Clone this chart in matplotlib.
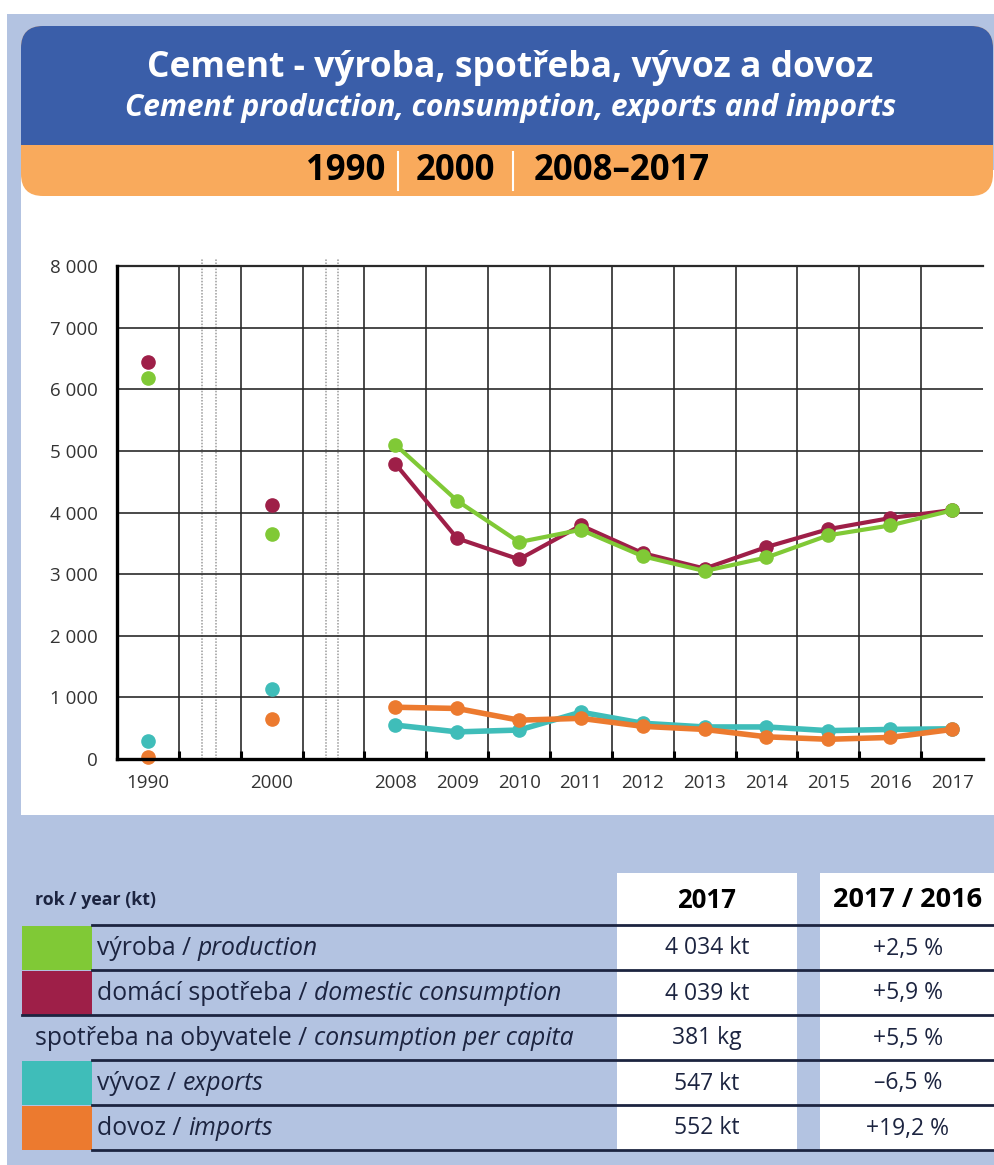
import matplotlib
matplotlib.use("Agg")
import matplotlib.pyplot as plt
from matplotlib.patches import Rectangle, FancyBboxPatch
from matplotlib.ticker import FuncFormatter
import numpy as np

# ---------------- data ----------------
years = ["1990", "2000", "2008", "2009", "2010", "2011", "2012", "2013",
         "2014", "2015", "2016", "2017"]
production = [6180, 3650, 5100, 4190, 3520, 3720, 3290, 3050, 3270, 3630, 3790, 4034]
consumption = [6450, 4120, 4790, 3580, 3240, 3790, 3340, 3090, 3440, 3730, 3910, 4039]
exports = [290, 1130, 550, 440, 470, 760, 580, 520, 520, 460, 480, 490]
imports = [40, 650, 840, 820, 630, 660, 530, 480, 360, 320, 350, 480]

y_ticks = [0, 1000, 2000, 3000, 4000, 5000, 6000, 7000, 8000]

title_cz = "Cement - výroba, spotřeba, vývoz a dovoz"
title_en = "Cement production, consumption, exports and imports"
periods = ["1990", "2000", "2008–2017"]

table_header = "rok / year (kt)"
col_headers = ["2017", "2017 / 2016"]
row_cz = ["výroba", "domácí spotřeba", "spotřeba na obyvatele", "vývoz", "dovoz"]
row_en = ["production", "domestic consumption", "consumption per capita", "exports", "imports"]
values_2017 = ["4 034 kt", "4 039 kt", "381 kg", "547 kt", "552 kt"]
change_pct = ["+2,5 %", "+5,9 %", "+5,5 %", "–6,5 %", "+19,2 %"]

# ---------------- styles ----------------
GREEN = "#80c936"
MAROON = "#9e1f48"
TEAL = "#3fbdb9"
ORANGE = "#ec7a2f"
BLUE = "#3a5ea9"
BAND = "#f9aa5c"
LIGHT = "#b3c3e1"
NAVY = "#1c2440"
TXT = "#333333"
FONT = "Open Sans"

W, H = 995, 1165
fig = plt.figure(figsize=(W / 100, H / 100), dpi=100)
fig.patch.set_facecolor("white")

bg = fig.add_axes([0, 0, 1, 1], zorder=0)
bg.set_xlim(0, W)
bg.set_ylim(H, 0)
bg.axis("off")

bg.add_patch(Rectangle((7, 14), W - 7, H - 14, color=LIGHT, lw=0))
bg.add_patch(Rectangle((21, 170), W - 21, 645, color="white", lw=0))
bg.add_patch(FancyBboxPatch((21, 26), 972, 170, boxstyle="round,pad=0,rounding_size=22",
                            color=BAND, lw=0))
bg.add_patch(FancyBboxPatch((21, 26), 972, 140, boxstyle="round,pad=0,rounding_size=22",
                            color=BLUE, lw=0))
bg.add_patch(Rectangle((21, 145), 972, 25, color=BAND, lw=0))

bg.text(510, 68, title_cz, color="white", fontsize=25.5, fontweight="bold",
        family=FONT, ha="center", va="center")
bg.text(511, 108, title_en, color="white", fontsize=21.5, fontweight="bold",
        style="italic", family=FONT, ha="center", va="center")

period_x = [346, 455, 622]
for px, p in zip(period_x, periods):
    bg.text(px, 171, p, color="black", fontsize=25, fontweight="bold",
            family=FONT, ha="center", va="center")
for sx in [398, 513]:
    bg.plot([sx, sx], [152, 190], color="white", lw=1.5)

# ---------------- chart ----------------
slots = [0, 2] + list(range(4, 14))
ax = fig.add_axes([117 / W, 1 - 759 / H, (983 - 117) / W, (759 - 266) / H], zorder=1)
ax.patch.set_alpha(0)
ax.set_xlim(-0.5, 13.5)
ax.set_ylim(0, 8000)

for s in ["top", "right"]:
    ax.spines[s].set_visible(False)
for s in ["left", "bottom"]:
    ax.spines[s].set_linewidth(2.4)
    ax.spines[s].set_color("black")
    ax.spines[s].set_zorder(5)

ax.set_yticks(y_ticks)
ax.yaxis.set_major_formatter(FuncFormatter(lambda v, p: f"{int(v):,}".replace(",", " ")))
ax.set_xticks(slots)
ax.set_xticklabels(years)
ax.set_xticks(np.arange(0.5, 13, 1), minor=True)
ax.grid(True, axis="y", color="#2a2a2a", lw=1.2, zorder=0)
ax.grid(True, axis="x", which="minor", color="#2a2a2a", lw=1.2, zorder=0)
ax.grid(False, axis="x", which="major")
ax.axhline(8000, color="#2a2a2a", lw=1.6, clip_on=False)
ax.tick_params(axis="both", which="major", length=0, labelsize=13.5, labelcolor=TXT)
ax.tick_params(axis="y", pad=14)
ax.tick_params(axis="x", pad=11)
ax.tick_params(axis="x", which="minor", direction="in", length=6, width=2.2, color="black")
for lab in ax.get_xticklabels() + ax.get_yticklabels():
    lab.set_family(FONT)

ax.vlines([0.88, 1.1, 2.88, 3.08], 0, 8130, colors="#9a9a9a", linestyles=(0, (1, 1)),
          lw=1.1, clip_on=False, zorder=1)

series = [(exports, TEAL, 4.0), (imports, ORANGE, 4.0),
          (consumption, MAROON, 3.0), (production, GREEN, 3.0)]
for i, (vals, col, lw) in enumerate(series):
    ax.plot(slots[:2], vals[:2], "o", color=col, ms=9.5, zorder=3 + i, clip_on=False)
    ax.plot(slots[2:], vals[2:], "-o", color=col, lw=lw, ms=9.5, zorder=3 + i, clip_on=False)

# ---------------- table ----------------
fig.canvas.draw()
renderer = fig.canvas.get_renderer()


def rich(x, y, parts, size=17.8):
    for txt, st in parts:
        t = bg.text(x, y, txt, fontsize=size, family=FONT, style=st, color=NAVY,
                    ha="left", va="center", zorder=6)
        x += t.get_window_extent(renderer).width


bg.add_patch(Rectangle((617, 873), 180, 278, color="white", lw=0, zorder=2))
bg.add_patch(Rectangle((820, 873), W - 820, 278, color="white", lw=0, zorder=2))
bg.text(35, 900, table_header, fontsize=12.8, fontweight="bold", family=FONT,
        color=NAVY, ha="left", va="center", zorder=6)
bg.text(707, 900, col_headers[0], fontsize=18.5, fontweight="bold", family=FONT,
        color="black", ha="center", va="center", zorder=6)
bg.text(908, 900, col_headers[1], fontsize=19.5, fontweight="bold", family=FONT,
        color="black", ha="center", va="center", zorder=6)

swatches = [GREEN, MAROON, None, TEAL, ORANGE]
row_top = [926, 971, 1016, 1061, 1106]
row_h = 45
bg.plot([92, W], [925, 925], color=NAVY, lw=2, zorder=4)
for i in range(5):
    y0 = row_top[i]
    yc = y0 + row_h / 2
    col = swatches[i]
    if col is not None:
        bg.add_patch(Rectangle((22, y0), 70, row_h - 1, color=col, lw=0, zorder=3))
        rich(97, yc, [(row_cz[i] + " / ", "normal"), (row_en[i], "italic")])
    else:
        rich(35, yc, [(row_cz[i] + " / ", "normal"), (row_en[i], "italic")])
    bg.text(707, yc, values_2017[i], fontsize=16.5, family=FONT, color=NAVY,
            ha="center", va="center", zorder=6)
    bg.text(908, yc, change_pct[i], fontsize=16.5, family=FONT, color=NAVY,
            ha="center", va="center", zorder=6)
    x_start = 22 if i == 1 else 92
    bg.plot([x_start, W], [y0 + row_h - 1, y0 + row_h - 1], color=NAVY, lw=2, zorder=4)

fig.savefig("out.png", dpi=100)
